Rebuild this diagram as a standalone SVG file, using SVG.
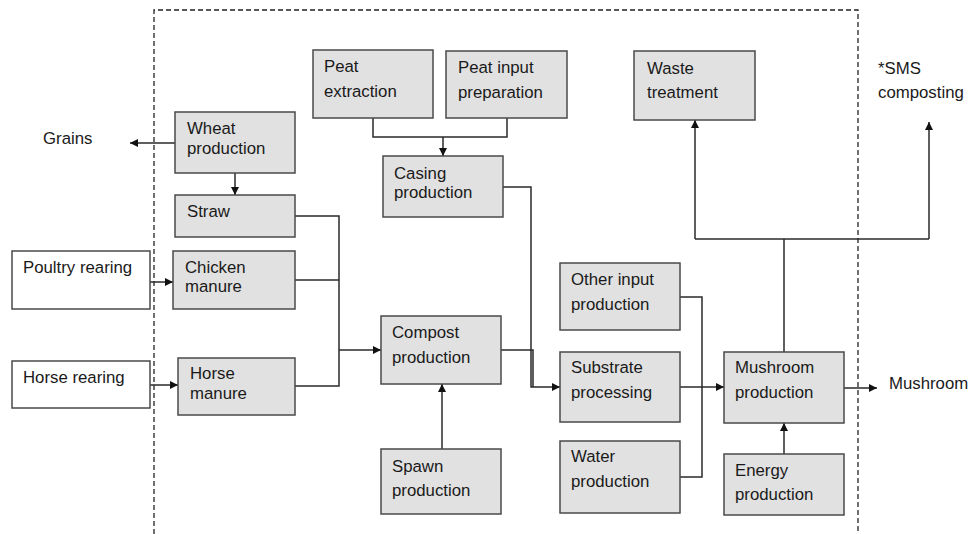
<svg xmlns="http://www.w3.org/2000/svg" width="969" height="534" viewBox="0 0 969 534">
<style>
.box{fill:#e1e1e1;stroke:#4a4a4a;stroke-width:1.5}
.wbox{fill:#ffffff;stroke:#4a4a4a;stroke-width:1.5}
text{font-family:"Liberation Sans",Arial,sans-serif;font-size:16.8px;fill:#1a1a1a}
.ln{fill:none;stroke:#2a2a2a;stroke-width:1.5}
.arr{fill:none;stroke:#2a2a2a;stroke-width:1.5;marker-end:url(#ah)}
.dash{fill:none;stroke:#222;stroke-width:1.3;stroke-dasharray:5 3}
</style>
<defs>
<marker id="ah" viewBox="0 0 10 10" refX="10" refY="5" markerWidth="9" markerHeight="8" markerUnits="userSpaceOnUse" orient="auto">
<path d="M0,0 L10,5 L0,10 z" fill="#111"/>
</marker>
</defs>
<rect width="969" height="534" fill="#ffffff"/>
<g id="boundary">
<path class="dash" d="M154,534 V10 H858 V534"/>
</g>
<g id="connectors">
<path class="arr" d="M175,143 H130"/>
<path class="arr" d="M235,173 V195"/>
<path class="ln" d="M295,216 H339 V386 H295"/>
<path class="ln" d="M295,280 H339"/>
<path class="arr" d="M339,350 H381"/>
<path class="arr" d="M150,282 H173"/>
<path class="arr" d="M150,385 H178"/>
<path class="ln" d="M373,118 V137 H507 V118"/>
<path class="arr" d="M443,137 V156"/>
<path class="arr" d="M503,187 H531 V387 H560"/>
<path class="ln" d="M501,350 H533 V387"/>
<path class="arr" d="M442,449 V384"/>
<path class="ln" d="M680,297 H702 V477 H680"/>
<path class="arr" d="M680,387 H724"/>
<path class="arr" d="M784,454 V423"/>
<path class="arr" d="M844,388 H877"/>
<path class="ln" d="M784,352 V239"/>
<path class="ln" d="M695,239 H929"/>
<path class="arr" d="M695,239 V120"/>
<path class="arr" d="M929,239 V122"/>
</g>
<g id="grains"><text x="43" y="144">Grains</text></g>
<g id="wheat"><rect class="box" x="175" y="112" width="120" height="61"/><text x="187" y="134">Wheat</text><text x="187" y="154">production</text></g>
<g id="straw"><rect class="box" x="175" y="195" width="120" height="42"/><text x="187" y="217">Straw</text></g>
<g id="poultry"><rect class="wbox" x="12" y="251" width="138" height="58"/><text x="23" y="273">Poultry rearing</text></g>
<g id="chicken"><rect class="box" x="173" y="251" width="122" height="58"/><text x="185" y="273">Chicken</text><text x="185" y="292">manure</text></g>
<g id="horse-rearing"><rect class="wbox" x="12" y="361" width="138" height="47"/><text x="23" y="383">Horse rearing</text></g>
<g id="horse-manure"><rect class="box" x="178" y="358" width="117" height="57"/><text x="190" y="379">Horse</text><text x="190" y="399">manure</text></g>
<g id="peat-extraction"><rect class="box" x="313" y="50" width="120" height="68"/><text x="324" y="72">Peat</text><text x="324" y="97">extraction</text></g>
<g id="peat-input"><rect class="box" x="446" y="51" width="121" height="67"/><text x="458" y="73">Peat input</text><text x="458" y="98">preparation</text></g>
<g id="casing"><rect class="box" x="383" y="156" width="120" height="61"/><text x="394" y="179">Casing</text><text x="394" y="198">production</text></g>
<g id="compost"><rect class="box" x="381" y="316" width="120" height="68"/><text x="392" y="338">Compost</text><text x="392" y="363">production</text></g>
<g id="spawn"><rect class="box" x="381" y="449" width="120" height="65"/><text x="392" y="472">Spawn</text><text x="392" y="496">production</text></g>
<g id="other-input"><rect class="box" x="560" y="263" width="120" height="67"/><text x="571" y="285">Other input</text><text x="571" y="310">production</text></g>
<g id="substrate"><rect class="box" x="560" y="352" width="120" height="70"/><text x="571" y="373">Substrate</text><text x="571" y="398">processing</text></g>
<g id="water"><rect class="box" x="560" y="441" width="120" height="72"/><text x="571" y="462">Water</text><text x="571" y="487">production</text></g>
<g id="mushroom-production"><rect class="box" x="724" y="352" width="120" height="71"/><text x="735" y="373">Mushroom</text><text x="735" y="398">production</text></g>
<g id="energy"><rect class="box" x="724" y="454" width="120" height="61"/><text x="735" y="476">Energy</text><text x="735" y="500">production</text></g>
<g id="waste"><rect class="box" x="634" y="51" width="121" height="69"/><text x="647" y="74">Waste</text><text x="647" y="98">treatment</text></g>
<g id="sms"><text x="878" y="74">*SMS</text><text x="878" y="98">composting</text></g>
<g id="mushroom-out"><text x="889" y="389">Mushroom</text></g>
</svg>
